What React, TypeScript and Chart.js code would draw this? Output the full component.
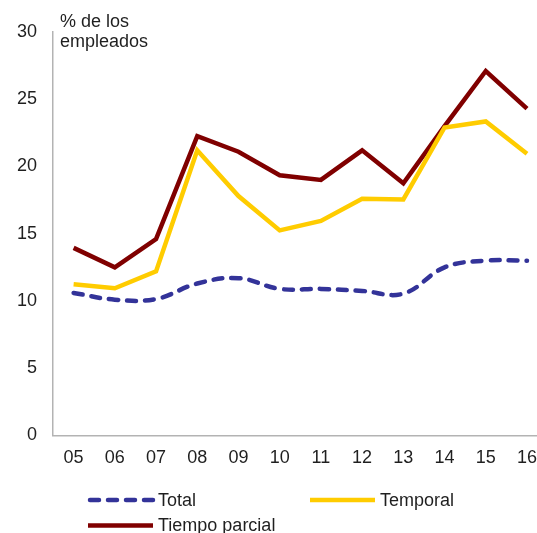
import React, { useEffect, useRef } from "react";
import { Chart, registerables } from "chart.js";

Chart.register(...registerables);

const years = ["05", "06", "07", "08", "09", "10", "11", "12", "13", "14", "15", "16"];
const total = [10.6, 10.1, 10.15, 11.3, 11.7, 10.9, 10.9, 10.75, 10.55, 12.5, 13.0, 13.0];
const temporal = [11.25, 10.95, 12.2, 21.2, 17.8, 15.25, 15.95, 17.6, 17.55, 22.9, 23.35, 20.95];
const tiempoParcial = [13.95, 12.5, 14.6, 22.25, 21.1, 19.35, 19.0, 21.2, 18.75, 23.0, 27.1, 24.3];
const seriesNames = ["Total", "Temporal", "Tiempo parcial"];
const axisTitle = ["% de los", "empleados"];
const yMin = 0;
const yMax = 30;
const yStep = 5;

const FONT = "'Liberation Sans', Arial, sans-serif";
const TEXT = "#1f1f1f";

const overlayPlugin = {
  id: "overlay",
  afterDraw(chart: any) {
    const ctx = chart.ctx as CanvasRenderingContext2D;
    const { left, top } = chart.chartArea;
    ctx.save();
    ctx.fillStyle = TEXT;
    ctx.font = `18px ${FONT}`;
    ctx.textAlign = "left";
    ctx.textBaseline = "alphabetic";
    axisTitle.forEach((t, i) => ctx.fillText(t, left + 7, top - 5 + i * 19.5));

    chart.data.datasets.forEach((ds: any, i: number) => {
      const x = 88 + (i % 2) * 222;
      const y = 500 + Math.floor(i / 2) * 25.5;
      const dashed = Array.isArray(ds.borderDash) && ds.borderDash.length > 0;
      ctx.beginPath();
      ctx.strokeStyle = ds.borderColor;
      ctx.lineWidth = 4.5;
      ctx.lineCap = dashed ? "round" : "butt";
      ctx.setLineDash(dashed ? ds.borderDash : []);
      ctx.moveTo(x + (dashed ? 2 : 0), y);
      ctx.lineTo(x + 65, y);
      ctx.stroke();
      ctx.setLineDash([]);
      ctx.fillStyle = TEXT;
      ctx.textBaseline = "middle";
      ctx.fillText(ds.label, x + 70, y + 1);
    });
    ctx.restore();
  },
};

export default function App() {
  const ref = useRef<HTMLCanvasElement | null>(null);

  useEffect(() => {
    if (!ref.current) return;
    const chart = new Chart(ref.current, {
      type: "line",
      data: {
        labels: years,
        datasets: [
          {
            label: seriesNames[0],
            data: total,
            borderColor: "#333399",
            borderWidth: 4.5,
            borderDash: [9, 9],
            borderCapStyle: "round",
            tension: 0.4,
            pointRadius: 0,
            fill: false,
          },
          {
            label: seriesNames[1],
            data: temporal,
            borderColor: "#FFCC00",
            borderWidth: 4.5,
            tension: 0,
            pointRadius: 0,
            fill: false,
          },
          {
            label: seriesNames[2],
            data: tiempoParcial,
            borderColor: "#800000",
            borderWidth: 4.5,
            tension: 0,
            pointRadius: 0,
            fill: false,
          },
        ],
      },
      options: {
        animation: false,
        responsive: true,
        maintainAspectRatio: false,
        layout: { padding: { top: 32, left: 0, right: 0, bottom: 0 } },
        plugins: {
          legend: { display: false },
          tooltip: { enabled: false },
          title: { display: false },
        },
        scales: {
          x: {
            offset: true,
            grid: { display: false, drawTicks: false },
            border: { display: true, color: "#b3b3b3", width: 1.5 },
            ticks: {
              color: TEXT,
              font: { family: FONT, size: 18 },
              padding: 12,
              maxRotation: 0,
              autoSkip: false,
            },
            afterFit: (scale: any) => {
              scale.height = 97.5;
            },
          },
          y: {
            min: yMin,
            max: yMax,
            grid: { display: false, drawTicks: false },
            border: { display: true, color: "#b3b3b3", width: 1.5 },
            ticks: {
              stepSize: yStep,
              color: TEXT,
              font: { family: FONT, size: 18 },
              padding: 16,
            },
            afterFit: (scale: any) => {
              scale.width = 53;
            },
          },
        },
      },
      plugins: [overlayPlugin],
    });
    return () => chart.destroy();
  }, []);

  return (
    <div
      style={{
        position: "fixed",
        left: 0,
        top: 0,
        width: 537,
        height: 533,
        overflow: "hidden",
        background: "#fff",
      }}
    >
      <div style={{ position: "relative", width: 549, height: 533 }}>
        <canvas ref={ref} />
      </div>
    </div>
  );
}
